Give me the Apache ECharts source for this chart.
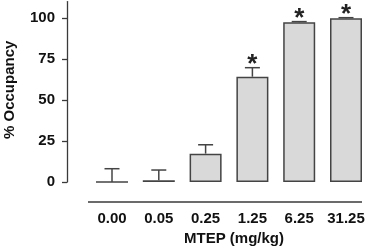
<!DOCTYPE html>
<html>
<head>
<meta charset="utf-8">
<script src="https://cdn.jsdelivr.net/npm/echarts@6/dist/echarts.min.js"></script>
<style>
  html, body { margin: 0; padding: 0; background: #fff; }
  #chart { width: 371px; height: 250px; }
</style>
</head>
<body>
<div id="chart"></div>
<script>
// MTEP dose groups and receptor occupancy
const doses = ['0.00', '0.05', '0.25', '1.25', '6.25', '31.25'];
const occupancy = [0, 1, 17.3, 64.2, 97.4, 99.8];
const sem = [8.1, 6.3, 5.4, 5.5, 0.4, 0.4];
const significant = [false, false, false, true, true, true];
const yTicks = [0, 25, 50, 75, 100];

const font = "'Liberation Sans', Arial, sans-serif";
const ink = '#3a3a3a';

const errData = occupancy.map((v, i) => [i, v, sem[i], significant[i] ? 1 : 0]);

const chart = echarts.init(document.getElementById('chart'));
chart.setOption({
  animation: false,
  grid: { left: 88.6, right: 1.6, top: 1.6, bottom: 68, outerBoundsMode: 'none', containLabel: false },
  xAxis: {
    type: 'category',
    data: doses,
    axisLine: { show: false },
    axisTick: { show: false },
    axisLabel: { interval: 0, margin: 29, fontFamily: font, fontWeight: 'bold', fontSize: 15, color: '#111' },
    name: 'MTEP (mg/kg)',
    nameLocation: 'middle',
    nameGap: 48,
    nameTextStyle: { fontFamily: font, fontWeight: 'bold', fontSize: 15, color: '#111', padding: [0, 0, 0, 10] }
  },
  yAxis: {
    type: 'value',
    min: 0,
    max: 110,
    offset: 21.6,
    splitLine: { show: false },
    axisLine: { show: true, lineStyle: { color: ink, width: 1.3 } },
    axisTick: { show: true, length: 5, customValues: yTicks, lineStyle: { color: ink, width: 1.3 } },
    axisLabel: { customValues: yTicks, margin: 12, fontFamily: font, fontWeight: 'bold', fontSize: 15, color: '#111' },
    name: '% Occupancy',
    nameLocation: 'middle',
    nameGap: 50,
    nameTextStyle: { fontFamily: font, fontWeight: 'bold', fontSize: 15, color: '#111', padding: [0, 0, 0, 4] }
  },
  graphic: [{
    type: 'line',
    shape: { x1: 88, y1: 202, x2: 362, y2: 202 },
    style: { stroke: ink, lineWidth: 1.3 }
  }],
  series: [
    {
      type: 'bar',
      data: occupancy,
      barWidth: 32,
      itemStyle: { color: '#d9d9d9', borderColor: '#444', borderWidth: 1.5 }
    },
    {
      type: 'custom',
      data: errData,
      z: 5,
      renderItem: function (params, api) {
        const i = api.value(0);
        const lo = api.coord([i, api.value(1)]);
        const hi = api.coord([i, api.value(1) + api.value(2)]);
        const style = { stroke: '#444', lineWidth: 1.5 };
        const kids = [
          { type: 'line', shape: { x1: lo[0], y1: lo[1], x2: hi[0], y2: hi[1] }, style: style },
          { type: 'line', shape: { x1: hi[0] - 7.5, y1: hi[1], x2: hi[0] + 7.5, y2: hi[1] }, style: style }
        ];
        if (api.value(3)) {
          kids.push({
            type: 'text',
            style: {
              text: '*', x: hi[0], y: hi[1] - 3,
              align: 'center', verticalAlign: 'middle',
              font: 'bold 26px ' + font, fill: '#222'
            }
          });
        }
        return { type: 'group', children: kids };
      }
    }
  ]
});
</script>
</body>
</html>
